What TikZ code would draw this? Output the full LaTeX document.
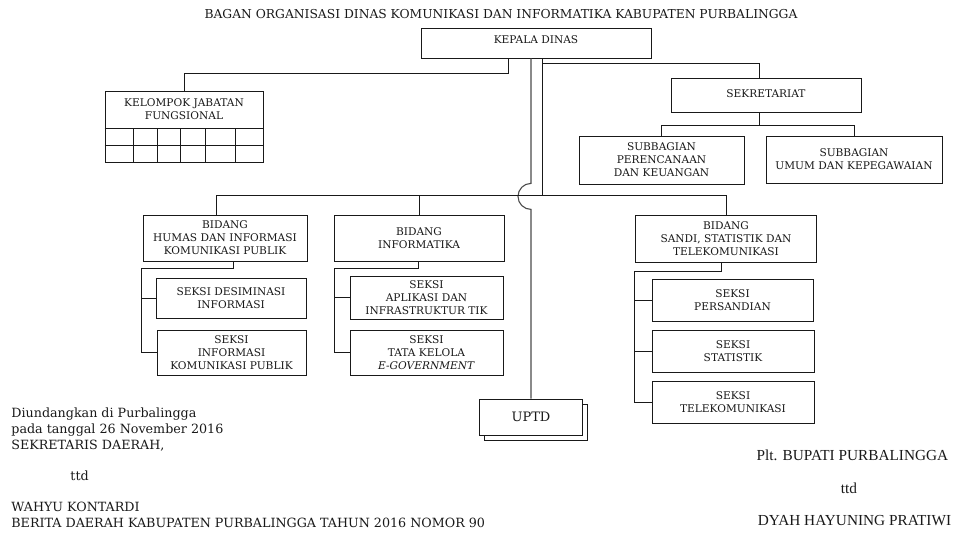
\documentclass[tikz,border=0pt]{standalone}
\usepackage{fontspec}
\setmainfont{DejaVu Serif}
\newfontfamily\ttdfont{Liberation Serif}
\usetikzlibrary{calc,shadows}
\tikzset{
	box/.style 2 args={draw,fill=white,align=center,inner sep=1pt,minimum width=#1,minimum height=#2,font=\fontsize{10.6}{13}\selectfont},
	teks/.style={inner sep=0pt,align=left,font=\fontsize{12.7}{16}\selectfont},
	ttdteks/.style={inner sep=0pt,font=\ttdfont\fontsize{15.3}{17}\selectfont}
}

\begin{document}
\begin{tikzpicture}[x=1pt,y=-1pt,line width=0.8pt,color=black!90]
		\useasboundingbox (0,0) rectangle (956,533);
		\node[font=\fontsize{12.3}{14}\selectfont] (judul) at (501,14) {BAGAN ORGANISASI DINAS KOMUNIKASI DAN INFORMATIKA KABUPATEN PURBALINGGA};
		\node[box={230}{30},text depth=6pt] (kepala) at (536,43) {KEPALA DINAS};
		\node[box={158}{37}] (kjf) at (184,109.5) {KELOMPOK JABATAN\\FUNGSIONAL};
		\node[box={158}{34}] (kjfgrid) at (184,145) {};
		\node[box={190}{34},text depth=3pt] (sekr) at (766,95) {SEKRETARIAT};
		\node[box={165}{48}] (subren) at (661.5,160) {SUBBAGIAN\\PERENCANAAN\\DAN KEUANGAN};
		\node[box={176}{47}] (subumum) at (854,159.5) {SUBBAGIAN\\UMUM DAN KEPEGAWAIAN};
		\node[box={164}{46}] (humas) at (225,238) {BIDANG\\HUMAS DAN INFORMASI\\KOMUNIKASI PUBLIK};
		\node[box={170}{46}] (info) at (419,238) {BIDANG\\INFORMATIKA};
		\node[box={181}{47}] (sandi) at (726,238.5) {BIDANG\\SANDI, STATISTIK DAN\\TELEKOMUNIKASI};
		\node[box={150}{40},line width=0.9pt] (desim) at (231,298) {SEKSI DESIMINASI\\INFORMASI};
		\node[box={149}{45}] (ikp) at (231.5,352.5) {SEKSI\\INFORMASI\\KOMUNIKASI PUBLIK};
		\node[box={153}{43}] (apl) at (426.5,297.5) {SEKSI\\APLIKASI DAN\\INFRASTRUKTUR TIK};
		\node[box={153}{45}] (tata) at (426.5,352.5) {SEKSI\\TATA KELOLA\\\textit{E-GOVERNMENT}};
		\node[box={161}{42}] (pers) at (732.5,300) {SEKSI\\PERSANDIAN};
		\node[box={162}{42}] (stat) at (733,351) {SEKSI\\STATISTIK};
		\node[box={162}{42}] (tele) at (733,402) {SEKSI\\TELEKOMUNIKASI};
		\node[box={103}{36},font=\fontsize{13}{15}\selectfont,copy shadow={shadow xshift=5pt,shadow yshift=-5pt}] (uptd) at (531,417) {UPTD};
		% kelompok jabatan fungsional
		\draw[line width=1.3pt] (kjf.south west) -- (kjf.south east);
		\draw (kjfgrid.west) -- (kjfgrid.east);
		\foreach \kx in {133,157,180,205,235}
			\draw (\kx,128) -- (\kx,162);
		\draw ([xshift=-28pt]kepala.south) -- ++(0,15) -| (kjf.north);
		% garis utama
		\draw[black!70,line width=1.1pt] ([xshift=-5pt]kepala.south) -- ++(0,125) arc[start angle=270,end angle=90,radius=13] -- (uptd.north);
		\draw ([xshift=6pt]kepala.south) -- ++(0,138);
		\draw ([xshift=6pt]kepala.south) ++(0,5) -| ([xshift=-7pt]sekr.north);
		\draw ([xshift=-9pt]humas.north) -- ++(0,-19) -| (sandi.north);
		\draw (info.north) -- ++(0,-19);
		% sekretariat
		\draw ([xshift=-7pt]sekr.south) -- ++(0,14);
		\draw (subren.north) -- ++(0,-10) -| (subumum.north);
		% seksi
		\draw ([xshift=8pt]humas.south) -- ++(0,7) -| ([xshift=-15pt]ikp.west) -- (ikp.west);
		\draw (desim.west) -- ++(-15,0);
		\draw ([xshift=-1pt]info.south) -- ++(0,7) -| ([xshift=-15pt]tata.west) -- (tata.west);
		\draw (apl.west) -- ++(-15,0);
		\draw ([xshift=-5pt]sandi.south) -- ++(0,9) -| ([xshift=-17pt]tele.west) -- (tele.west);
		\draw (pers.west) -- ++(-17,0);
		\draw (stat.west) -- ++(-17,0);
		% pengesahan
		\node[teks,anchor=north west] (undang) at (11,407.4) {Diundangkan di Purbalingga\\pada tanggal 26 November 2016\\SEKRETARIS DAERAH,};
		\node[teks,anchor=north west] (ttdkiri) at (70,470.5) {ttd};
		\node[teks,anchor=north west] (berita) at (11,501.4) {WAHYU KONTARDI\\BERITA DAERAH KABUPATEN PURBALINGGA TAHUN 2016 NOMOR 90};
		\node[ttdteks] (bupati) at (852.5,455) {Plt. BUPATI PURBALINGGA};
		\node[ttdteks] (ttdkanan) at (849,488) {ttd};
		\node[ttdteks] (nama) at (854.5,521) {DYAH HAYUNING PRATIWI};
\end{tikzpicture}
\end{document}
